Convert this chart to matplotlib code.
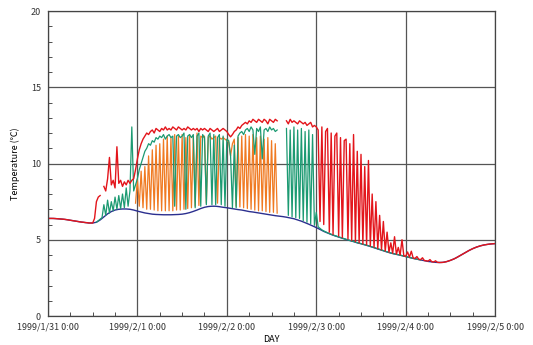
import numpy as np
import matplotlib
matplotlib.use("Agg")
import matplotlib.pyplot as plt
from matplotlib.ticker import MultipleLocator

plt.rcParams['font.family'] = ['Noto Sans CJK JP', 'DejaVu Sans']

nan = np.nan

# hour-of-run tick labels (0 h = 1999/1/31 0:00)
day_labels = ['1999/1/31 0:00', '1999/2/1 0:00', '1999/2/2 0:00',
              '1999/2/3 0:00', '1999/2/4 0:00', '1999/2/5 0:00']

# navy sensor, hourly from 0 h to 120 h
navy = [
    6.40, 6.40, 6.39, 6.37, 6.35, 6.32, 6.28, 6.24, 6.20, 6.16, 6.13, 6.10,
    6.10, 6.15, 6.30, 6.50, 6.70, 6.85, 6.95, 7.00, 7.02, 7.02, 7.00, 6.95,
    6.88, 6.82, 6.76, 6.72, 6.68, 6.66, 6.65, 6.64, 6.64, 6.64, 6.65, 6.66,
    6.68, 6.72, 6.78, 6.86, 6.95, 7.05, 7.13, 7.18, 7.20, 7.20, 7.17, 7.13,
    7.10, 7.06, 7.02, 6.98, 6.95, 6.90, 6.85, 6.82, 6.78, 6.74, 6.70, 6.66,
    6.62, 6.58, 6.55, 6.52, 6.48, 6.43, 6.38, 6.30, 6.22, 6.12, 6.02, 5.91,
    5.80, 5.68, 5.55, 5.45, 5.35, 5.26, 5.18, 5.10, 5.02, 4.95, 4.88, 4.80,
    4.74, 4.67, 4.60, 4.52, 4.44, 4.36, 4.28, 4.20, 4.13, 4.07, 4.02, 3.96,
    3.90, 3.84, 3.78, 3.73, 3.68, 3.63, 3.58, 3.55, 3.52, 3.51, 3.52, 3.57,
    3.65, 3.75, 3.88, 4.02, 4.16, 4.30, 4.42, 4.52, 4.60, 4.66, 4.70, 4.73,
    4.75]

# red sensor, every 30 min from 0 h
red = [
    6.40, 6.40, 6.40, 6.40, 6.39, 6.38, 6.37, 6.36, 6.35, 6.34, 6.32, 6.30,
    6.28, 6.26, 6.24, 6.22, 6.20, 6.18, 6.16, 6.15, 6.13, 6.12, 6.10, 6.10,
    6.10, 6.40, 7.50, 7.80, 7.90, nan, 8.50, 8.20, 9.00, 10.4, 8.60, 8.90,
    8.40, 11.1, 8.70, 8.90, 8.50, 8.80, 8.60, 8.90, 8.70, 8.90, 9.00, 9.60,
    10.3, 10.9, 11.3, 11.6, 11.8, 12.0, 11.9, 12.1, 12.2, 12.0, 12.3, 12.2,
    12.1, 12.3, 12.2, 12.4, 12.2, 12.3, 12.2, 12.4, 12.3, 12.2, 12.4, 12.3,
    12.2, 12.3, 12.2, 12.4, 12.3, 12.2, 12.3, 12.2, 12.3, 12.1, 12.3, 12.2,
    12.3, 12.2, 12.1, 12.3, 12.2, 12.1, 12.2, 12.3, 12.1, 12.2, 12.3, 12.2,
    12.1, 11.9, 11.75, 11.9, 12.1, 12.2, 12.4, 12.3, 12.5, 12.6, 12.7, 12.6,
    12.8, 12.7, 12.9, 12.8, 12.7, 12.9, 12.8, 12.7, 12.9, 12.8, 12.6, 12.9,
    12.8, 12.7, 12.9, 12.8, nan, nan, nan, nan, 12.8, 12.6, 12.9, 12.7,
    12.8, 12.7, 12.6, 12.8, 12.7, 12.6, 12.7, 12.5, 12.6, 12.7, 12.4, 12.5,
    12.4, 12.2, 6.20, 12.4, 6.00, 12.1, 12.3, 5.50, 12.0, 5.35, 11.8, 12.0,
    5.25, 11.7, 5.15, 11.5, 11.6, 5.05, 11.3, 4.95, 11.9, 4.88, 10.8, 4.80,
    10.6, 4.72, 9.80, 4.66, 10.2, 4.58, 8.00, 4.50, 7.50, 4.42, 6.60, 4.34,
    6.20, 4.26, 5.50, 4.18, 4.80, 4.11, 5.20, 4.05, 4.50, 4.00, 5.00, 3.94,
    3.92, 4.20, 3.86, 4.25, 3.80, 3.78, 3.90, 3.72, 3.70, 3.82, 3.64, 3.62,
    3.60, 3.70, 3.56, 3.54, 3.62, 3.52, 3.51, 3.51, 3.52, 3.54, 3.57, 3.61,
    3.65, 3.70, 3.75, 3.81, 3.88, 3.95, 4.02, 4.09, 4.16, 4.23, 4.30, 4.36,
    4.42, 4.47, 4.52, 4.56, 4.60, 4.63, 4.66, 4.68, 4.70, 4.72, 4.73, 4.74,
    4.75]

# green sensor, every 30 min from 13 h
green_start = 13
green = [
    6.15, 6.25, 6.35, 6.45, 7.30, 6.60, 7.60, 6.75, 7.50, 6.90, 7.80, 7.00,
    7.90, 7.05, 8.00, 7.10, 8.40, 7.20, 8.20, 12.4, 8.20, 8.60, 9.00, 9.60,
    10.0, 10.4, 10.8, 11.0, 11.3, 11.2, 11.5, 11.4, 11.7, 11.6, 11.8, 11.7,
    11.9, 11.6, 11.8, 11.9, 11.7, 11.8, 7.20, 11.8, 11.9, 11.7, 11.8, 12.0,
    7.00, 11.8, 11.9, 11.7, 11.9, 7.10, 11.8, 12.0, 7.20, 11.9, 11.7, 7.30,
    11.8, 12.0, 7.30, 11.9, 7.30, 11.7, 11.9, 7.30, 11.8, 7.20, 11.6, 11.5,
    10.5, 7.10, 11.2, 7.10, 11.8, 12.0, 12.1, 11.9, 12.2, 12.3, 12.1, 12.4,
    12.2, 10.6, 12.3, 12.1, 12.4, 10.3, 12.2, 12.3, 12.1, 12.4, 12.2, 12.3,
    12.1, 12.2, nan, nan, nan, nan, 12.3, 6.60, 12.2, 6.50, 12.4, 6.45,
    12.2, 6.40, 12.3, 6.25, 12.1, 6.15, 12.2, 6.05, 11.9, 5.95, 6.80, 5.85,
    5.75, 5.65, 5.58, 5.52, 5.46, 5.41, 5.36, 5.31, 5.27, 5.23, 5.19, 5.15,
    5.11, 5.07, 5.03, 4.99, 4.96, 4.92, 4.89, 4.85, 4.81, 4.78, 4.75, 4.71,
    4.68, 4.64, 4.61, 4.57, 4.53, 4.49, 4.45, 4.41, 4.37, 4.33, 4.29, 4.25,
    4.21, 4.17, 4.14, 4.10, 4.07, 4.04, 4.02, 3.99, 3.96, 3.93, 3.90, 3.87,
    3.84, 3.81, 3.78, 3.75, 3.73, 3.70, 3.68]

# orange sensor, every 30 min from 23.5 h
orange_start = 23.5
orange = [
    7.40, 9.00, 7.20, 9.50, 7.10, 9.80, 7.00, 10.5, 7.00, 10.9, 6.95, 11.2,
    6.90, 11.3, 6.90, 11.6, 6.90, 11.8, 6.90, 11.7, 6.90, 11.9, 6.95, 11.8,
    6.95, 11.9, 7.00, 11.7, 7.05, 11.9, 7.10, 11.8, 7.20, 12.0, 7.25, 11.8,
    11.7, 11.8, 7.40, 11.7, 11.8, 11.6, 11.7, 11.8, 7.40, 11.7, 11.6, 11.7,
    11.6, 11.5, 11.4, 10.5, 11.3, 11.6, 7.20, 11.7, 7.15, 11.8, 7.10, 11.9,
    7.05, 11.8, 7.00, 11.9, 6.95, 11.7, 6.90, 11.8, 6.90, 11.6, 6.85, 11.7,
    6.80, 11.5, 6.80, 11.3, 6.75]

t_navy = np.arange(len(navy))
t_red = np.arange(len(red)) * 0.5
t_green = green_start + np.arange(len(green)) * 0.5
t_orange = orange_start + np.arange(len(orange)) * 0.5

fig = plt.figure(figsize=(5.33, 3.45), dpi=100)
ax = fig.add_axes([0.090, 0.084, 0.839, 0.884])

ax.plot(t_navy, navy, color='#2b2f8f', lw=1.0)
ax.plot(t_orange, orange, color='#f07a22', lw=0.9)
ax.plot(t_green, green, color='#1c9a72', lw=0.9)
ax.plot(t_red, red, color='#e3151b', lw=1.0)

ax.set_xlim(0, 120)
ax.set_ylim(0, 20)
ax.set_xticks(np.arange(0, 121, 24))
ax.set_xticklabels(day_labels)
ax.xaxis.set_minor_locator(MultipleLocator(6))
ax.set_yticks([0, 5, 10, 15, 20])
ax.yaxis.set_minor_locator(MultipleLocator(1))
ax.tick_params(which='both', direction='in', labelsize=6.5, colors='#333333')
ax.tick_params(which='major', length=0, pad=5)
ax.tick_params(which='minor', length=3)
ax.grid(True, which='major', color='#555555', lw=0.9)
for s in ax.spines.values():
    s.set_color('#444444')
    s.set_linewidth(0.9)

ax.set_xlabel('DAY', fontsize=6.5, labelpad=2)
ax.set_ylabel('Temperature (℃)', fontsize=6.5, labelpad=8)

fig.savefig('out.png', dpi=100)
